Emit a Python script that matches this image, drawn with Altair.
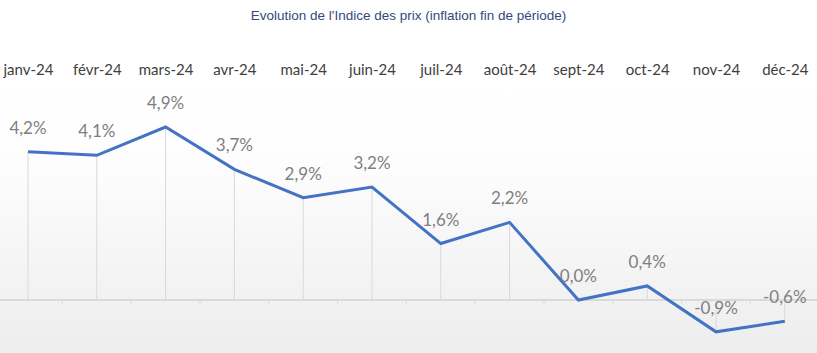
import altair as alt
import pandas as pd
import json

months = ["janv-24", "févr-24", "mars-24", "avr-24", "mai-24", "juin-24",
          "juil-24", "août-24", "sept-24", "oct-24", "nov-24", "déc-24"]
values = [4.2, 4.1, 4.9, 3.7, 2.9, 3.2, 1.6, 2.2, 0.0, 0.4, -0.9, -0.6]
labels = [f"{v:.1f}".replace(".", ",") + "%" for v in values]

df = pd.DataFrame({"idx": list(range(len(months))), "month": months,
                   "value": values, "label": labels})
df["bound"] = df["idx"] + 0.5
df["zero"] = 0.0
df["tickend"] = -0.12

label_expr = json.dumps(months, ensure_ascii=False) + "[datum.value]"

xscale = alt.Scale(domain=[-0.407, 11.468], nice=False, zero=False)
yscale = alt.Scale(domain=[-1.5, 6.09], nice=False, zero=False)
x = alt.X("idx:Q", scale=xscale,
          axis=alt.Axis(orient="top", title=None, ticks=False, domain=False,
                        values=list(range(len(months))), labelExpr=label_expr,
                        labelAngle=0, labelFont="Lato", labelFontSize=15,
                        labelColor="#404040", labelPadding=8, grid=False,
                        labelFlush=False, labelOverlap=False))
y = alt.Y("value:Q", scale=yscale, axis=None)

base = alt.Chart(df)

bg = alt.Chart(pd.DataFrame({"a": [0]})).mark_rect(
    fill={"gradient": "linear", "x1": 0, "y1": 0, "x2": 0, "y2": 1,
          "stops": [{"offset": 0, "color": "#ffffff"},
                    {"offset": 0.3, "color": "#fdfdfd"},
                    {"offset": 1, "color": "#ededed"}]}
).encode(x=alt.value(0), x2=alt.value(817), y=alt.value(0), y2=alt.value(268))

drops = base.mark_rule(color="#d9d9d9", strokeWidth=1).encode(
    x=x, y=y, y2="zero:Q")

zero = base.mark_rule(color="#d9d9d9", strokeWidth=1.5).encode(
    y=alt.Y("zero:Q", scale=yscale, axis=None))

ticks = base.mark_rule(color="#d9d9d9", strokeWidth=1).encode(
    x=alt.X("bound:Q", scale=xscale),
    y=alt.Y("zero:Q", scale=yscale, axis=None), y2="tickend:Q")

line = base.mark_line(color="#4472c4", strokeWidth=3).encode(x=x, y=y)

text = base.mark_text(dy=-23, font="Lato", fontSize=17, color="#7f7f7f").encode(
    x=x, y=y, text="label:N")

chart = alt.layer(bg, drops, zero, ticks, line, text).properties(
    width=817, height=268,
    title=alt.TitleParams("Evolution de l'Indice des prix (inflation fin de période)",
                          font="Liberation Sans", fontSize=13.5, fontWeight=400,
                          color="#34497a", anchor="middle", offset=40),
    autosize=alt.AutoSizeParams(type="none"),
    padding={"left": 0, "top": 85, "right": 0, "bottom": 0},
    background="#ffffff",
).configure_view(strokeWidth=0)

chart.save("out.html", embed_options={"renderer": "svg", "actions": False})
